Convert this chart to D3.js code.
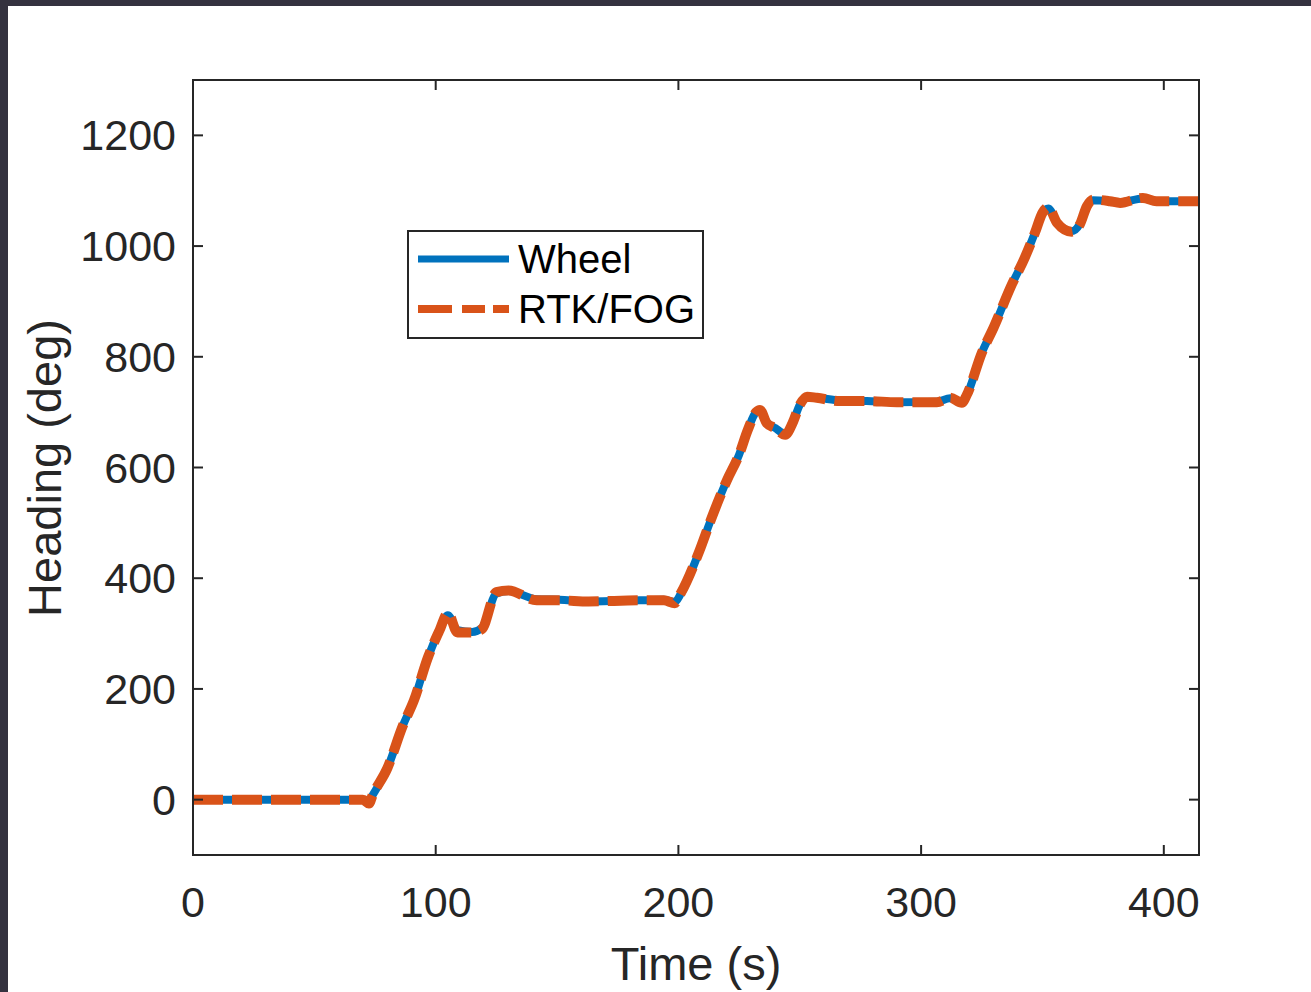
<!DOCTYPE html>
<html>
<head>
<meta charset="utf-8">
<script src="https://cdn.jsdelivr.net/npm/d3@7"></script>
<style>
  html, body { margin: 0; padding: 0; background: #34323f; }
  svg { display: block; font-family: "Liberation Sans", Arial, sans-serif; }
</style>
</head>
<body>
<script>
const width = 1311;
const height = 992;

// time (s) and heading (deg)
const time = [0, 15, 30, 45, 60, 70, 72.5, 74, 80, 86.5, 91, 96.8, 101.6, 105, 109, 115, 119, 125, 130, 141.6,
  151, 163, 184, 194, 198.5, 201, 208.8, 212.9, 220, 225, 228.6, 232, 233.6, 236.4, 240, 244, 247, 250, 253,
  257, 266.6, 277.6, 290, 306.5, 312, 316.8, 318.8, 325, 330, 337, 342.7, 346.9, 350, 352.4, 356, 362, 365.4,
  368.3, 370.8, 377.8, 382, 391.4, 397, 405, 414.5];
const wheel = [0, 0, 0, 0, 0, 0, -3, 8, 56, 134, 179, 257, 306, 333, 306, 303, 310, 372, 377, 362,
  361, 358, 360, 361, 357, 372, 451, 500, 577, 623, 668, 700, 703, 682, 671, 661, 680, 713, 727,
  726, 721, 720, 718, 719, 725, 718, 731, 807, 854, 927, 979, 1024, 1060, 1068, 1043, 1027, 1040,
  1071, 1083, 1081, 1079, 1086, 1081, 1081, 1081];
const rtkFog = [0, 0, 0, 0, 0, 0, -7, 8, 56, 134, 179, 257, 306, 337, 302, 302, 308, 375, 378, 360,
  360, 358, 360, 360, 355, 373, 451, 500, 577, 623, 668, 700, 704, 680, 671, 659, 680, 713, 728,
  726, 720, 720, 718, 718, 726, 717, 731, 807, 854, 927, 979, 1024, 1060, 1070, 1042, 1026, 1039,
  1072, 1084, 1081, 1078, 1087, 1081, 1081, 1081];
const xTicks = [0, 100, 200, 300, 400];
const yTicks = [0, 200, 400, 600, 800, 1000, 1200];
const seriesNames = ["Wheel", "RTK/FOG"];

const plotLeft = 193, plotRight = 1199, plotTop = 80, plotBottom = 855;
const blue = "#0072BD", orange = "#D95319", axisColor = "#262626";

const svg = d3.select("body").append("svg")
  .attr("width", width)
  .attr("height", height);

// white figure area (dark window frame at top and left)
svg.append("rect").attr("x", 8).attr("y", 6)
  .attr("width", width - 8).attr("height", height - 6).attr("fill", "#ffffff");

const x = d3.scaleLinear().domain([0, 414.5]).range([plotLeft, plotRight]);
const y = d3.scaleLinear().domain([-100, 1300]).range([plotBottom, plotTop]);

svg.append("clipPath").attr("id", "plotClip")
  .append("rect").attr("x", plotLeft).attr("y", plotTop)
  .attr("width", plotRight - plotLeft).attr("height", plotBottom - plotTop);

const line = d3.line().curve(d3.curveMonotoneX);

const lines = svg.append("g").attr("clip-path", "url(#plotClip)");
lines.append("path")
  .attr("d", line(time.map((t, i) => [x(t), y(wheel[i])])))
  .attr("fill", "none").attr("stroke", blue).attr("stroke-width", 8)
  .attr("stroke-linejoin", "round").attr("stroke-linecap", "round");
lines.append("path")
  .attr("d", line(time.map((t, i) => [x(t), y(rtkFog[i])])))
  .attr("fill", "none").attr("stroke", orange).attr("stroke-width", 10)
  .attr("stroke-dasharray", "30,9")
  .attr("stroke-linejoin", "round");

// axes box with inward ticks on all four sides
const tickLen = 10;
const axes = svg.append("g").attr("stroke", axisColor).attr("stroke-width", 2).attr("fill", "none");
axes.append("rect").attr("x", plotLeft).attr("y", plotTop)
  .attr("width", plotRight - plotLeft).attr("height", plotBottom - plotTop);

xTicks.forEach(t => {
  axes.append("line").attr("x1", x(t)).attr("x2", x(t)).attr("y1", plotBottom).attr("y2", plotBottom - tickLen);
  axes.append("line").attr("x1", x(t)).attr("x2", x(t)).attr("y1", plotTop).attr("y2", plotTop + tickLen);
});
yTicks.forEach(v => {
  axes.append("line").attr("x1", plotLeft).attr("x2", plotLeft + tickLen).attr("y1", y(v)).attr("y2", y(v));
  axes.append("line").attr("x1", plotRight).attr("x2", plotRight - tickLen).attr("y1", y(v)).attr("y2", y(v));
});

svg.append("g").selectAll("text").data(xTicks).join("text")
  .attr("x", d => x(d)).attr("y", 917)
  .attr("text-anchor", "middle").attr("font-size", 43).attr("fill", axisColor)
  .text(d => d);

svg.append("g").selectAll("text").data(yTicks).join("text")
  .attr("x", 176).attr("y", d => y(d)).attr("dy", "0.35em")
  .attr("text-anchor", "end").attr("font-size", 43).attr("fill", axisColor)
  .text(d => d);

svg.append("text")
  .attr("x", 696).attr("y", 980)
  .attr("text-anchor", "middle").attr("font-size", 47).attr("fill", axisColor)
  .text("Time (s)");

svg.append("text")
  .attr("transform", "translate(61,468) rotate(-90)")
  .attr("text-anchor", "middle").attr("font-size", 47).attr("fill", axisColor)
  .text("Heading (deg)");

// legend
const legend = svg.append("g");
legend.append("rect").attr("x", 408).attr("y", 231).attr("width", 295).attr("height", 107)
  .attr("fill", "#ffffff").attr("stroke", axisColor).attr("stroke-width", 2);
const legendRows = [{ name: seriesNames[0], color: blue, dash: null, w: 7 },
  { name: seriesNames[1], color: orange, dash: "34,10,23,8,16", w: 8 }];
legendRows.forEach((r, i) => {
  const ly = 259 + i * 50;
  legend.append("line").attr("x1", 418).attr("x2", 509).attr("y1", ly).attr("y2", ly)
    .attr("stroke", r.color).attr("stroke-width", r.w)
    .attr("stroke-dasharray", r.dash);
  legend.append("text").attr("x", 518).attr("y", ly).attr("dy", "0.36em")
    .attr("font-size", 40).attr("fill", "#000000").text(r.name);
});
</script>
</body>
</html>
